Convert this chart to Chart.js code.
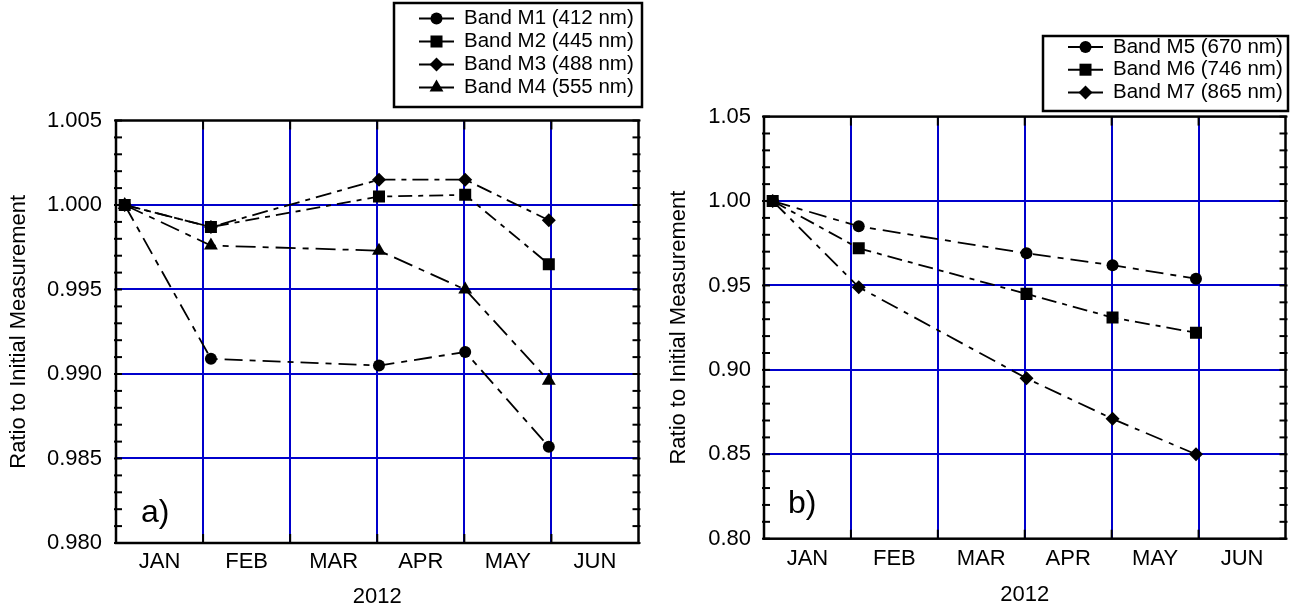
<!DOCTYPE html>
<html><head><meta charset="utf-8">
<script src="https://cdn.jsdelivr.net/npm/chart.js@4.4.0/dist/chart.umd.min.js"></script>
<style>
html,body{margin:0;padding:0;background:#fff;width:1294px;height:611px;overflow:hidden;}
canvas{position:absolute;top:0;}
#ca{left:0;}
#cb{left:647px;}
</style></head><body>
<canvas id="ca" width="647" height="611"></canvas>
<canvas id="cb" width="647" height="611"></canvas>
<script>
// ---------- data ----------
const monthLabels = ['JAN','FEB','MAR','APR','MAY','JUN'];
const xTitle = '2012';
const yTitle = 'Ratio to Initial Measurement';
// measurement dates, in months since 1 Jan 2012
const measureMonths = [0.10, 1.09, 3.02, 4.01, 4.97];

const labelsA = ['Band M1 (412 nm)','Band M2 (445 nm)','Band M3 (488 nm)','Band M4 (555 nm)'];
const m1 = [1.0000, 0.9909, 0.9905, 0.9913, 0.9857];
const m2 = [1.0000, 0.9987, 1.0005, 1.0006, 0.9965];
const m3 = [1.0000, 0.9987, 1.0015, 1.0015, 0.9991];
const m4 = [1.0000, 0.9976, 0.9973, 0.9950, 0.9896];
const yTicksA = [0.980, 0.985, 0.990, 0.995, 1.000, 1.005];

const labelsB = ['Band M5 (670 nm)','Band M6 (746 nm)','Band M7 (865 nm)'];
const m5 = [1.000, 0.985, 0.969, 0.962, 0.954];
const m6 = [1.000, 0.972, 0.945, 0.931, 0.922];
const m7 = [1.000, 0.949, 0.895, 0.871, 0.850];
const yTicksB = [0.80, 0.85, 0.90, 0.95, 1.00, 1.05];

// ---------- styling ----------
const FONT = "'Liberation Sans', Arial, Helvetica, sans-serif";
const BLUE = '#0000CC';
const NONE = 'rgba(0,0,0,0)';
Chart.defaults.font.family = FONT;
Chart.defaults.color = '#000';

function pts(vals){ return vals.map((v,i)=>({x: measureMonths[i], y: v})); }
function ds(label, vals, style, radius, dash){
  return {label, data: pts(vals), borderColor:'#000', backgroundColor:'#000',
    borderWidth:1.8, borderDash:dash, pointStyle:style, pointRadius:radius,
    pointHoverRadius:radius, pointBackgroundColor:'#000', pointBorderColor:'#000',
    pointBorderWidth:0, tension:0, fill:false, showLine:true};
}
function near(a,b){ return Math.abs(a-b) < 1e-9; }
function yTickList(majors){
  const out=[];
  for(let i=0;i<majors.length;i++){
    out.push(majors[i]);
    if(i<majors.length-1){
      const step=(majors[i+1]-majors[i])/5;
      for(let k=1;k<5;k++) out.push(majors[i]+k*step);
    }
  }
  return out;
}

const frame = {
  id:'frame',
  beforeDatasetsDraw(chart){
    const {ctx, chartArea:{left,right,top,bottom}, scales:{x,y}} = chart;
    ctx.save();
    ctx.strokeStyle='#000'; ctx.lineWidth=2; ctx.setLineDash([]);
    const ln=(a,b,c,d)=>{ctx.beginPath();ctx.moveTo(a,b);ctx.lineTo(c,d);ctx.stroke();};
    y.ticks.forEach(t=>{ const py=y.getPixelForValue(t.value); ln(left-2,py,left+6,py); ln(right-6,py,right+2,py); });
    x.ticks.forEach(t=>{ const v=t.value; if(v>0 && v<6 && near(v,Math.round(v))){ const px=x.getPixelForValue(v); ln(px,top,px,top+9); ln(px,bottom-9,px,bottom);} });
    ctx.lineWidth=2.5;
    ctx.strokeRect(left,top,right-left,bottom-top);
    ctx.restore();
  }
};

const legendBox = {
  id:'legendBox',
  afterDraw(chart, args, o){
    const ctx = chart.ctx;
    ctx.save();
    ctx.setLineDash([]);
    ctx.fillStyle='#fff';
    ctx.fillRect(o.x,o.y,o.w,o.h);
    ctx.lineWidth=2.5; ctx.strokeStyle='#000';
    ctx.strokeRect(o.x,o.y,o.w,o.h);
    ctx.font = o.fontSize + 'px ' + FONT;
    ctx.textBaseline='middle'; ctx.textAlign='left';
    chart.data.datasets.forEach((d,i)=>{
      const yy = o.row0 + i*o.rowGap;
      ctx.strokeStyle='#000'; ctx.lineWidth=2;
      ctx.beginPath(); ctx.moveTo(o.lineX0,yy); ctx.lineTo(o.lineX1,yy); ctx.stroke();
      ctx.fillStyle='#000';
      Chart.helpers.drawPoint(ctx,{pointStyle:d.pointStyle, radius:d.pointRadius, borderWidth:0, rotation:0},(o.lineX0+o.lineX1)/2,yy);
      ctx.fillStyle='#000';
      ctx.fillText(d.label,o.textX,yy);
    });
    ctx.restore();
  }
};

const panelTag = {
  id:'panelTag',
  afterDraw(chart, args, o){
    const {ctx, chartArea:{left,bottom}} = chart;
    ctx.save();
    ctx.font = o.size + 'px ' + FONT;
    ctx.fillStyle='#000'; ctx.textBaseline='alphabetic'; ctx.textAlign='left';
    ctx.fillText(o.text, left+o.dx, bottom-o.dy);
    ctx.restore();
  }
};

function makeChart(id, datasets, yMajors, dec, geo){
  return new Chart(document.getElementById(id), {
    type:'line',
    data:{datasets},
    plugins:[frame, legendBox, panelTag],
    options:{
      responsive:false, animation:false, devicePixelRatio:1,
      layout:{padding:{top:geo.top, right:geo.right, left:0, bottom:0}},
      plugins:{
        legend:{display:false}, tooltip:{enabled:false},
        legendBox:geo.legend,
        panelTag:geo.tag
      },
      scales:{
        x:{
          type:'linear', min:0, max:6,
          afterBuildTicks(s){ const t=[]; for(let i=0;i<=monthLabels.length*2;i++) t.push({value:i/2}); s.ticks=t; },
          afterFit(s){ s.height = geo.xH; },
          ticks:{autoSkip:false, maxRotation:0, minRotation:0, padding:geo.xPad, color:'#000', font:{size:22},
            callback:(v)=> near(v%1,0.5) ? monthLabels[Math.floor(v)] : ''},
          grid:{drawTicks:false, lineWidth:2,
            color:(c)=>{ const v=c.tick?c.tick.value:-1; return (v>0 && v<6 && near(v,Math.round(v))) ? BLUE : NONE; }},
          border:{display:false},
          title:{display:true, text:xTitle, color:'#000', font:{size:22}, padding:{top:0,bottom:geo.xTitlePad}}
        },
        y:{
          type:'linear', min:yMajors[0], max:yMajors[yMajors.length-1],
          afterBuildTicks(s){ s.ticks = yTickList(yMajors).map(v=>({value:v})); },
          afterFit(s){ s.width = geo.yW; },
          ticks:{autoSkip:false, padding:geo.yPad, color:'#000', font:{size:22},
            callback:(v)=> yMajors.some(m=>near(m,v)) ? v.toFixed(dec) : ''},
          grid:{drawTicks:false, lineWidth:2,
            color:(c)=>{ const v=c.tick?c.tick.value:null; if(v===null) return NONE;
              const inner = yMajors.slice(1,-1).some(m=>near(m,v)); return inner?BLUE:NONE; }},
          border:{display:false},
          title:{display:true, text:yTitle, color:'#000', font:{size:22}, padding:{top:geo.yTitlePad,bottom:0}}
        }
      }
    }
  });
}

makeChart('ca', [
  ds(labelsA[0], m1, 'circle', 6, [18,7,6,7]),
  ds(labelsA[1], m2, 'rect', 8.5, [14,6,5,6]),
  ds(labelsA[2], m3, 'rectRot', 7, [16,6,5,6]),
  ds(labelsA[3], m4, 'triangle', 8, [20,7,6,7])
], yTicksA, 3, {
  top:120.5, right:6, xH:68, yW:116, xPad:6, yPad:14, xTitlePad:1, yTitlePad:6,
  legend:{x:394, y:3, w:248, h:104, row0:18.5, rowGap:23, lineX0:419, lineX1:454, textX:464, fontSize:20.5},
  tag:{text:'a)', dx:25, dy:21, size:32}
});

makeChart('cb', [
  ds(labelsB[0], m5, 'circle', 6, [18,7,6,7]),
  ds(labelsB[1], m6, 'rect', 8.5, [15,6,5,6]),
  ds(labelsB[2], m7, 'rectRot', 7, [18,7,5,7])
], yTicksB, 2, {
  top:116.6, right:4, xH:72.3, yW:117, xPad:7, yPad:13, xTitlePad:3, yTitlePad:19,
  legend:{x:1043-647, y:36, w:245, h:75, row0:47, rowGap:22.7, lineX0:1068-647, lineX1:1103-647, textX:1113-647, fontSize:20.5},
  tag:{text:'b)', dx:24, dy:25.7, size:32}
});
</script>
</body></html>
